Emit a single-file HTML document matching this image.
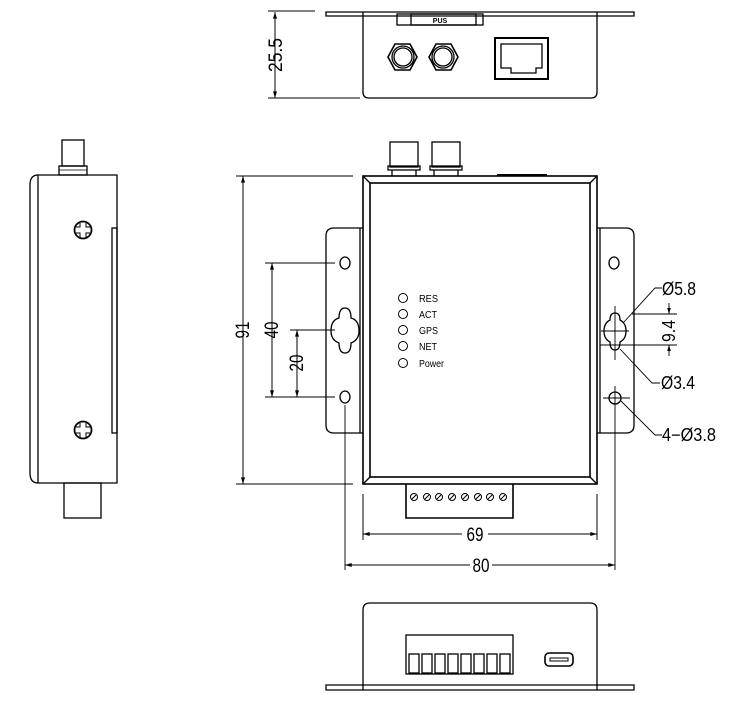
<!DOCTYPE html>
<html><head><meta charset="utf-8"><style>
html,body{margin:0;padding:0;background:#fff;}
svg{display:block;}
text{font-family:"Liberation Sans",sans-serif;fill:#000;}
</style></head><body>
<svg width="733" height="703" viewBox="0 0 733 703" xmlns="http://www.w3.org/2000/svg">
<defs>
<marker id="a" viewBox="0 0 10 6" refX="10" refY="3" markerWidth="8" markerHeight="4" orient="auto-start-reverse"><path d="M0,0 L10,3 L0,6 z" fill="#000"/></marker>
</defs>
<g fill="none" stroke="#000" stroke-width="1.3">

<!-- TOP VIEW -->
<path d="M326,12 H634 V16 H326 Z"/>
<path d="M363,12 V92 Q363,98 369,98 H591 Q597,98 597,92 V12"/>
<rect x="397" y="14" width="86" height="11"/>
<rect x="411" y="14" width="65" height="11"/>
<polygon points="388,57 395,44 410,44 417,57 410,70 395,70" stroke-width="1.6"/>
<circle cx="403" cy="57" r="11"/><circle cx="403" cy="57" r="9"/>
<polygon points="429,57 436,44 451,44 458,57 451,70 436,70" stroke-width="1.6"/>
<circle cx="443" cy="57" r="11"/><circle cx="443" cy="57" r="9"/>
<rect x="495" y="38" width="53" height="41" stroke-width="2"/>
<path d="M501,44 H542 V68 H536 V73 H511 V68 H501 Z"/>
<line x1="268" y1="11" x2="315" y2="11" stroke-width="1"/>
<line x1="268" y1="98" x2="360" y2="98" stroke-width="1"/>
<line x1="275" y1="12" x2="275" y2="98" stroke-width="1" marker-start="url(#a)" marker-end="url(#a)"/>

<!-- LEFT SIDE VIEW -->
<path d="M117,175 H38 Q30,175 30,185 V473 Q30,483 38,483 H117 Z"/>
<line x1="38" y1="175" x2="38" y2="483"/>
<rect x="112" y="228" width="5" height="205"/>
<rect x="62" y="140" width="22" height="26"/>
<rect x="59" y="166" width="28" height="9"/>
<line x1="59" y1="170" x2="87" y2="170" stroke-width="0.8"/>
<rect x="64" y="483" width="37" height="35"/>
<circle cx="83" cy="230" r="8.5" stroke-width="1.8"/><path d="M80,223 V227 H76 M86,223 V227 H90 M80,237 V233 H76 M86,237 V233 H90" stroke-width="1"/>
<circle cx="83" cy="430" r="8.5" stroke-width="1.8"/><path d="M80,423 V427 H76 M86,423 V427 H90 M80,437 V433 H76 M86,437 V433 H90" stroke-width="1"/>

<!-- MAIN VIEW -->
<rect x="363" y="176" width="234" height="308" stroke-width="1.6"/>
<rect x="370" y="183" width="220" height="294" stroke-width="1.6"/>
<line x1="363" y1="176" x2="370" y2="183"/><line x1="597" y1="176" x2="590" y2="183"/>
<line x1="363" y1="484" x2="370" y2="477"/><line x1="597" y1="484" x2="590" y2="477"/>
<line x1="497" y1="175" x2="547" y2="175" stroke-width="2"/>
<rect x="390" y="142" width="28" height="25"/><rect x="388" y="166" width="32" height="4"/>
<line x1="392" y1="170" x2="392" y2="176"/><line x1="416" y1="170" x2="416" y2="176"/>
<rect x="432" y="142" width="28" height="25"/><rect x="430" y="166" width="32" height="4"/>
<line x1="434" y1="170" x2="434" y2="176"/><line x1="458" y1="170" x2="458" y2="176"/>
<!-- flanges -->
<path d="M363,228 H334 Q326,228 326,236 V425 Q326,433 334,433 H363"/>
<line x1="360" y1="228" x2="360" y2="433"/>
<ellipse cx="345" cy="263" rx="5" ry="6"/>
<path d="M345,308 Q339,308 339,318 Q331,320 331,331 Q331,340 339,343 Q339,353 345,353 Q351,353 351,343 Q359,340 359,331 Q359,320 351,318 Q351,308 345,308 Z"/>
<ellipse cx="345" cy="397" rx="5" ry="6"/>
<path d="M597,228 H626 Q634,228 634,236 V425 Q634,433 626,433 H597"/>
<line x1="600" y1="228" x2="600" y2="433"/>
<ellipse cx="614" cy="263" rx="5" ry="6"/>
<path d="M615,313 Q610,313 610,320 Q604,323 604,331 Q604,339 610,342 Q610,350 615,350 Q620,350 620,342 Q626,339 626,331 Q626,323 620,320 Q620,313 615,313 Z"/>
<circle cx="615" cy="398" r="6"/>
<g stroke-width="0.9">
<line x1="615" y1="306" x2="615" y2="360"/><line x1="601" y1="331" x2="629" y2="331"/>
<line x1="632" y1="314" x2="677" y2="314"/><line x1="600" y1="345" x2="677" y2="345"/>
<line x1="669" y1="303" x2="669" y2="314" marker-end="url(#a)"/><line x1="669" y1="356" x2="669" y2="345" marker-end="url(#a)"/>
<line x1="603" y1="398" x2="630" y2="398"/>
<line x1="615" y1="386" x2="615" y2="570"/>
<line x1="345" y1="405" x2="345" y2="570"/>
<path d="M662,288 H655 L624,322"/>
<path d="M660,383 H652 L620,349"/>
<path d="M662,435 H655 L621,401"/>
</g>
<!-- LEDs -->
<g stroke-width="1">
<circle cx="403" cy="298" r="4.5"/><circle cx="403" cy="314" r="4.5"/><circle cx="403" cy="330" r="4.5"/><circle cx="403" cy="346" r="4.5"/><circle cx="403" cy="363" r="4.5"/>
</g>
<!-- terminal -->
<path d="M406,484 V518 H513 V484" stroke-width="1.6"/>
<g stroke-width="1">
<circle cx="414" cy="497" r="3.5"/><circle cx="427" cy="497" r="3.5"/><circle cx="439" cy="497" r="3.5"/><circle cx="452" cy="497" r="3.5"/><circle cx="465" cy="497" r="3.5"/><circle cx="478" cy="497" r="3.5"/><circle cx="490" cy="497" r="3.5"/><circle cx="503" cy="497" r="3.5"/>
<path d="M412,499 L416,495 M425,499 L429,495 M437,499 L441,495 M450,499 L454,495 M463,499 L467,495 M476,499 L480,495 M488,499 L492,495 M501,499 L505,495"/>
</g>
<!-- dims -->
<g stroke-width="1">
<line x1="236" y1="176" x2="353" y2="176"/><line x1="236" y1="484" x2="353" y2="484"/>
<line x1="243" y1="176" x2="243" y2="484" marker-start="url(#a)" marker-end="url(#a)"/>
<line x1="265" y1="263" x2="335" y2="263"/><line x1="265" y1="397" x2="335" y2="397"/>
<line x1="272" y1="263" x2="272" y2="397" marker-start="url(#a)" marker-end="url(#a)"/>
<line x1="290" y1="330" x2="335" y2="330"/>
<line x1="297" y1="330" x2="297" y2="397" marker-start="url(#a)" marker-end="url(#a)"/>
<line x1="363" y1="494" x2="363" y2="540"/><line x1="597" y1="494" x2="597" y2="540"/>
<line x1="363" y1="534" x2="597" y2="534" marker-start="url(#a)" marker-end="url(#a)"/>
<line x1="345" y1="565" x2="615" y2="565" marker-start="url(#a)" marker-end="url(#a)"/>
</g>

<!-- BOTTOM VIEW -->
<path d="M326,685 H634 V690 H326 Z"/>
<path d="M363,690 V610 Q363,603 370,603 H590 Q597,603 597,610 V690"/>
<rect x="406" y="635" width="107" height="39"/>
<g stroke-width="1.3">
<rect x="409" y="654" width="10" height="19"/><rect x="422" y="654" width="10" height="19"/><rect x="435" y="654" width="10" height="19"/><rect x="448" y="654" width="10" height="19"/><rect x="461" y="654" width="10" height="19"/><rect x="474" y="654" width="10" height="19"/><rect x="487" y="654" width="10" height="19"/><rect x="500" y="654" width="10" height="19"/>
</g>
<rect x="545" y="653" width="28" height="13" rx="4" stroke-width="1.6"/>
<rect x="550" y="658" width="18" height="3" stroke-width="1"/>
</g>

<!-- text -->
<g fill="#000" stroke="none">
<text x="440" y="23" font-size="7" font-weight="bold" text-anchor="middle">PUS</text>
<text transform="translate(282,55) rotate(-90)" font-size="19" text-anchor="middle" textLength="34" lengthAdjust="spacingAndGlyphs">25.5</text>
<text transform="translate(249,330) rotate(-90)" font-size="19" text-anchor="middle" textLength="17" lengthAdjust="spacingAndGlyphs">91</text>
<text transform="translate(278,330) rotate(-90)" font-size="19" text-anchor="middle" textLength="17" lengthAdjust="spacingAndGlyphs">40</text>
<text transform="translate(303,363) rotate(-90)" font-size="19" text-anchor="middle" textLength="17" lengthAdjust="spacingAndGlyphs">20</text>
<text transform="translate(675,331) rotate(-90)" font-size="18" text-anchor="middle" textLength="22" lengthAdjust="spacingAndGlyphs">9.4</text>
<rect x="462" y="525" width="26" height="18" fill="#fff"/>
<text x="475" y="541" font-size="19" text-anchor="middle" textLength="17" lengthAdjust="spacingAndGlyphs">69</text>
<rect x="470" y="556" width="22" height="18" fill="#fff"/>
<text x="481" y="572" font-size="19" text-anchor="middle" textLength="17" lengthAdjust="spacingAndGlyphs">80</text>
<text x="662" y="295" font-size="18" textLength="34" lengthAdjust="spacingAndGlyphs">Ø5.8</text>
<text x="661" y="389" font-size="18" textLength="34" lengthAdjust="spacingAndGlyphs">Ø3.4</text>
<text x="662" y="441" font-size="18" textLength="54" lengthAdjust="spacingAndGlyphs">4−Ø3.8</text>
<text x="419" y="302" font-size="10" textLength="19" lengthAdjust="spacingAndGlyphs">RES</text>
<text x="419" y="318" font-size="10" textLength="18" lengthAdjust="spacingAndGlyphs">ACT</text>
<text x="419" y="334" font-size="10" textLength="19" lengthAdjust="spacingAndGlyphs">GPS</text>
<text x="419" y="350" font-size="10" textLength="18" lengthAdjust="spacingAndGlyphs">NET</text>
<text x="419" y="367" font-size="10" textLength="25" lengthAdjust="spacingAndGlyphs">Power</text>
</g>
</svg>
</body></html>
